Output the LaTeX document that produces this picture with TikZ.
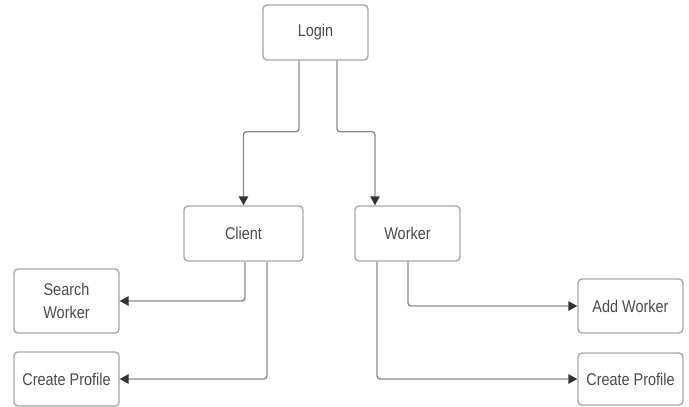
\documentclass[tikz,border=0pt]{standalone}
\usepackage{fontspec}
\setmainfont{Liberation Sans}[FakeStretch=0.85]
\usepackage{tikz}
\usetikzlibrary{arrows.meta,positioning}
\definecolor{boxline}{HTML}{A8A8A8}
\definecolor{wire}{HTML}{8C8C8C}
\definecolor{tip}{HTML}{333333}
\definecolor{label}{HTML}{4A4A4A}

\begin{document}
\begin{tikzpicture}[x=1pt,y=-1pt]
	\tikzset{rblock/.style={draw=boxline, line width=1.4pt, rounded corners=4pt, shape=rectangle, align=center,
			text=label, font=\fontsize{17}{23}\selectfont, inner sep=0pt},
		conn/.style={draw=wire, line width=1.4pt, rounded corners=3pt,
			-{Triangle[length=9pt,width=9.5pt,color=tip]}},
	}
	\useasboundingbox (0,0) rectangle (689,407);
	\node [rblock, minimum width=105pt, minimum height=55pt] (login) at (315.5,32.5) {Login};
	\node [rblock, minimum width=119pt, minimum height=55pt] (client) at (243.5,233.5) {Client};
	\node [rblock, minimum width=105pt, minimum height=55pt] (worker) at (407.5,233.5) {Worker};
	\node [rblock, minimum width=105pt, minimum height=64pt] (search) at (66.5,301) {Search\\Worker};
	\node [rblock, minimum width=105pt, minimum height=54pt] (cprofc) at (66.5,379) {Create Profile};
	\node [rblock, minimum width=105pt, minimum height=54pt] (addw) at (630.5,306) {Add Worker};
	\node [rblock, minimum width=105pt, minimum height=52pt] (cprofw) at (630.5,379) {Create Profile};
	% login to the two roles
	\draw [conn] ([xshift=-16.5pt]login.south) -- ++(0,71) -| (client.north);
	\draw [conn] ([xshift=21.5pt]login.south) -- ++(0,71) -| ([xshift=-32.5pt]worker.north);
	% client
	\draw [conn] ([xshift=1.5pt]client.south) |- (search.east);
	\draw [conn] ([xshift=23.5pt]client.south) |- (cprofc.east);
	% worker
	\draw [conn] ([xshift=0.5pt]worker.south) |- (addw.west);
	\draw [conn] ([xshift=-30.5pt]worker.south) |- (cprofw.west);
\end{tikzpicture}
\end{document}
